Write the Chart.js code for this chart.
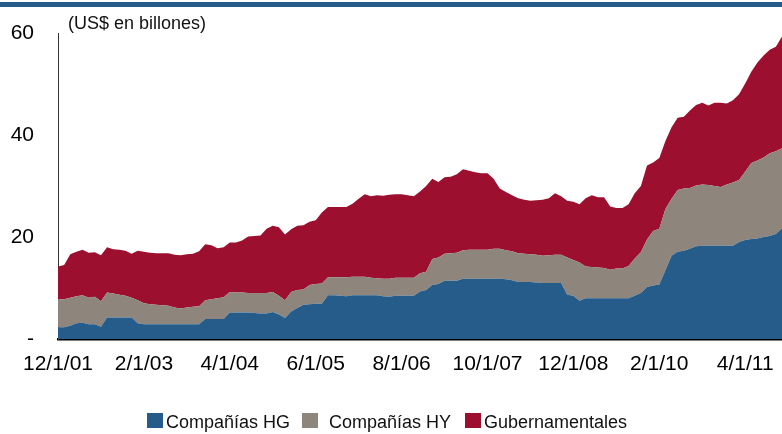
<!DOCTYPE html>
<html>
<head>
<meta charset="utf-8">
<script src="https://cdn.jsdelivr.net/npm/chart.js@4.4.1/dist/chart.umd.min.js"></script>
<style>
html,body{margin:0;padding:0;background:#fff;}
#wrap{position:relative;width:782px;height:434px;overflow:hidden;font-family:"Liberation Sans",Arial,sans-serif;}
#topbar{position:absolute;left:0;top:2px;width:782px;height:5px;background:#255C8A;}
#title{position:absolute;left:68px;top:13px;font-size:18px;color:#111;white-space:nowrap;line-height:normal;}
.lg-box{position:absolute;width:16px;height:15px;top:413px;}
.lg-txt{position:absolute;top:412px;font-size:18px;color:#111;white-space:nowrap;line-height:normal;}
canvas{position:absolute;left:0;top:0;}
</style>
</head>
<body>
<div id="wrap">
  <canvas id="c" width="782" height="434" style="width:782px;height:434px"></canvas>
  <div id="topbar"></div>
  <div id="title">(US$ en billones)</div>
  <div id="legend"></div>
</div>
<script>
// Categories (monthly, 12/1/01 .. 10/1/11)
const months = [
  "12/1/01",
  "1/1/02","2/1/02","3/1/02","4/1/02","5/1/02","6/1/02","7/1/02","8/1/02","9/1/02","10/1/02","11/1/02","12/1/02",
  "1/1/03","2/1/03","3/1/03","4/1/03","5/1/03","6/1/03","7/1/03","8/1/03","9/1/03","10/1/03","11/1/03","12/1/03",
  "1/1/04","2/1/04","3/1/04","4/1/04","5/1/04","6/1/04","7/1/04","8/1/04","9/1/04","10/1/04","11/1/04","12/1/04",
  "1/1/05","2/1/05","3/1/05","4/1/05","5/1/05","6/1/05","7/1/05","8/1/05","9/1/05","10/1/05","11/1/05","12/1/05",
  "1/1/06","2/1/06","3/1/06","4/1/06","5/1/06","6/1/06","7/1/06","8/1/06","9/1/06","10/1/06","11/1/06","12/1/06",
  "1/1/07","2/1/07","3/1/07","4/1/07","5/1/07","6/1/07","7/1/07","8/1/07","9/1/07","10/1/07","11/1/07","12/1/07",
  "1/1/08","2/1/08","3/1/08","4/1/08","5/1/08","6/1/08","7/1/08","8/1/08","9/1/08","10/1/08","11/1/08","12/1/08",
  "1/1/09","2/1/09","3/1/09","4/1/09","5/1/09","6/1/09","7/1/09","8/1/09","9/1/09","10/1/09","11/1/09","12/1/09",
  "1/1/10","2/1/10","3/1/10","4/1/10","5/1/10","6/1/10","7/1/10","8/1/10","9/1/10","10/1/10","11/1/10","12/1/10",
  "1/1/11","2/1/11","3/1/11","4/1/11","5/1/11","6/1/11","7/1/11","8/1/11","9/1/11","10/1/11"
];

// Series values (US$ billions)
const companiasHG = [
  2.3,2.3,2.6,3.1,3.2,2.9,2.9,2.4,4.2,4.2,
  4.2,4.2,4.2,3.1,2.9,2.9,2.9,2.9,2.9,2.9,
  2.9,2.9,2.9,2.9,3.9,3.9,3.9,3.9,5.2,5.2,
  5.2,5.2,5.1,5.0,5.0,5.3,4.8,4.1,5.4,6.1,
  6.7,6.8,6.9,6.9,8.6,8.6,8.5,8.4,8.6,8.6,
  8.6,8.6,8.6,8.4,8.3,8.5,8.5,8.5,8.5,9.3,
  9.6,10.6,10.8,11.4,11.4,11.4,11.8,11.8,11.8,11.8,
  11.8,11.8,11.8,11.7,11.5,11.2,11.2,11.2,11.1,11.0,
  11.0,11.0,11.0,8.7,8.5,7.5,8.0,8.0,8.0,8.0,
  8.0,8.0,8.0,8.0,8.5,9.0,10.2,10.5,10.7,13.5,
  16.3,17.1,17.3,17.7,18.2,18.3,18.3,18.3,18.3,18.3,
  18.3,19.0,19.4,19.6,19.7,20.0,20.2,20.6,21.7
];
const companiasHY = [
  5.5,5.5,5.5,5.3,5.4,5.2,5.4,5.0,4.9,4.7,
  4.5,4.3,3.9,4.5,4.1,3.9,3.8,3.7,3.6,3.3,
  3.1,3.3,3.4,3.5,3.7,3.9,4.1,4.3,4.0,3.9,
  3.9,3.8,3.9,4.0,4.0,3.9,3.7,3.5,3.8,3.5,
  3.0,3.8,3.9,4.0,3.5,3.5,3.6,3.7,3.6,3.6,
  3.6,3.4,3.3,3.4,3.5,3.5,3.5,3.5,3.5,3.6,
  3.6,5.1,5.2,5.3,5.4,5.5,5.6,5.7,5.7,5.7,
  5.7,5.9,5.9,5.7,5.7,5.6,5.5,5.4,5.4,5.3,
  5.4,5.5,5.5,7.3,7.0,7.5,6.2,6.1,6.0,5.9,
  5.6,5.8,5.8,6.3,7.3,8.0,9.3,10.7,10.9,12.0,
  11.2,12.1,12.2,11.9,11.9,12.0,11.9,11.7,11.5,12.0,
  12.4,12.2,13.4,14.9,15.3,15.6,16.2,16.2,15.7
];
const gubernamentales = [
  6.4,6.7,8.5,8.7,8.9,8.8,8.7,9.0,8.9,8.7,
  8.8,8.8,8.6,9.7,10.1,10.1,10.1,10.2,10.3,10.3,
  10.4,10.4,10.4,10.8,11.0,10.6,9.8,9.8,9.7,9.8,
  10.2,11.1,11.2,11.3,12.6,13.0,13.4,12.9,12.3,12.6,
  12.6,12.4,12.5,13.9,13.8,13.8,13.8,13.8,14.3,15.3,
  16.2,16.0,16.3,16.3,16.5,16.4,16.4,16.2,16.0,16.0,
  16.8,15.7,14.8,15.0,15.0,15.4,15.9,15.5,15.2,15.0,
  15.0,13.7,11.8,11.4,11.0,10.8,10.6,10.5,10.7,11.0,
  11.2,12.1,11.5,11.1,11.4,11.4,13.4,14.1,13.8,13.9,
  12.4,11.9,11.9,12.1,12.8,13.0,14.5,13.4,13.9,13.3,
  14.0,14.2,14.1,15.2,15.8,16.0,15.6,16.3,16.5,15.9,
  16.1,16.8,17.3,17.9,19.2,20.0,20.3,20.5,21.9
];

const seriesNames = ["Compañías HG","Compañías HY","Gubernamentales"];
const seriesColors = ["#255C8A","#8E857C","#9C0F2E"];
const yTicks = [0,20,40,60];
const labelEvery = 14;

// HTML legend
const legendPos = [{box:147,txt:166},{box:302,txt:329},{box:465,txt:484}];
const lg = document.getElementById('legend');
seriesNames.forEach((n,i)=>{
  const b=document.createElement('div'); b.className='lg-box';
  b.style.left=legendPos[i].box+'px'; b.style.background=seriesColors[i]; lg.appendChild(b);
  const t=document.createElement('div'); t.className='lg-txt';
  t.style.left=legendPos[i].txt+'px'; t.textContent=n; lg.appendChild(t);
});

const FONT = "'Liberation Sans', Arial, sans-serif";
const seriesData = [companiasHG, companiasHY, gubernamentales];

new Chart(document.getElementById('c'), {
  type: 'line',
  data: {
    labels: months,
    datasets: seriesData.map((d,i)=>({
      label: seriesNames[i],
      data: d,
      backgroundColor: seriesColors[i],
      borderColor: seriesColors[i],
      borderWidth: 0,
      pointRadius: 0,
      fill: i===0 ? 'origin' : '-1',
      tension: 0
    }))
  },
  options: {
    responsive: false,
    animation: false,
    events: [],
    layout: { padding: { top: 33, left: 0, right: 0, bottom: 0 } },
    plugins: { legend: { display: false }, tooltip: { enabled: false }, title: { display: false } },
    scales: {
      x: {
        type: 'category',
        offset: false,
        grid: { display: false, drawTicks: false },
        border: { display: true, color: '#000', width: 2.5 },
        ticks: {
          autoSkip: false, maxRotation: 0, minRotation: 0, padding: 13,
          color: '#000', font: { size: 21, family: FONT },
          callback: function(v, i) { return i % labelEvery === 0 ? this.getLabelForValue(v) : null; }
        },
        afterFit: s => { s.height = 95; s.paddingLeft = 0; s.paddingRight = 0; }
      },
      y: {
        stacked: true,
        min: yTicks[0], max: yTicks[yTicks.length-1],
        grid: { display: false, drawTicks: false },
        border: { display: true, color: '#333', width: 1 },
        afterBuildTicks: s => { s.ticks = yTicks.map(v=>({value:v})); },
        ticks: {
          padding: 24, color: '#000', font: { size: 21, family: FONT },
          callback: v => v === 0 ? '-' : String(v)
        },
        afterFit: s => { s.width = 58; s.paddingTop = 0; s.paddingBottom = 0; }
      }
    }
  }
});
</script>
</body>
</html>
